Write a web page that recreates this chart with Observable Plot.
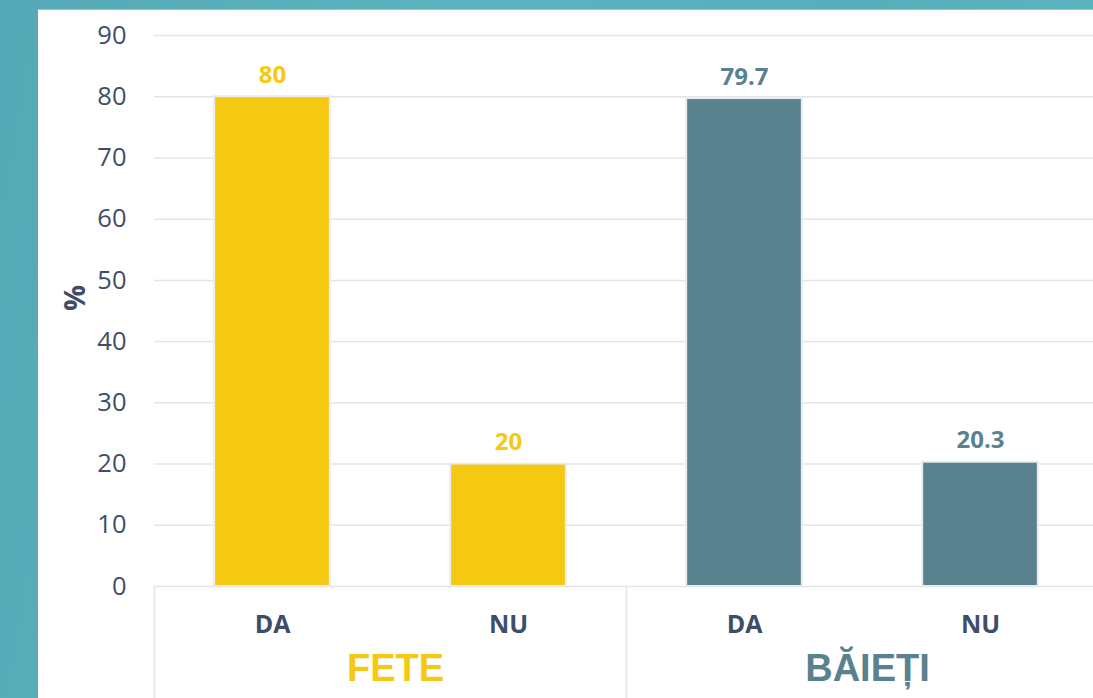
<!DOCTYPE html>
<html>
<head>
<meta charset="utf-8">
<script src="https://cdn.jsdelivr.net/npm/d3@7"></script>
<script src="https://cdn.jsdelivr.net/npm/@observablehq/plot@0.6"></script>
<style>
  html, body { margin: 0; padding: 0; }
  body { width: 1093px; height: 698px; overflow: hidden; position: relative;
         background: linear-gradient(100deg, #55a9b6 0%, #5db3bf 40%, #57adb9 70%, #5cb8c2 100%); }
  #panel { position: absolute; left: 38px; top: 10px; width: 1055px; height: 688px; background: #ffffff;
           box-shadow: 0 -1px 0 #8fcad3; }
  #chart { position: absolute; left: 0; top: 0; }
</style>
</head>
<body>
<div id="panel"></div>
<div id="chart"></div>
<script>
const groups = ["FETE", "FETE", "BĂIEȚI", "BĂIEȚI"];
const answers = ["DA", "NU", "DA", "NU"];
const values = [80, 20, 79.7, 20.3];
const groupNames = ["FETE", "BĂIEȚI"];
const yTicks = [0, 10, 20, 30, 40, 50, 60, 70, 80, 90];
const groupColors = {"FETE": "#f5c812", "BĂIEȚI": "#5a828e"};

const rows = values.map((v, i) => ({i, group: groups[i], answer: answers[i], value: v}));
const groupRows = groupNames.map((g, j) => ({group: g, j}));

const textColor = "#3e4e69";
const gridColor = "#e2e6ec";

const chart = Plot.plot({
  width: 1093,
  height: 698,
  marginLeft: 154,
  marginRight: 0,
  marginTop: 35,
  marginBottom: 112,
  style: {background: "transparent", overflow: "visible", fontFamily: "'Open Sans', sans-serif"},
  x: {domain: [0, 4], range: [154, 1098], axis: null},
  y: {domain: [0, 90], ticks: yTicks, label: null, axis: null},
  marks: [
    Plot.gridY(yTicks.filter(d => d > 0), {stroke: gridColor, strokeOpacity: 1, strokeWidth: 1.5}),
    Plot.axisY(yTicks, {tickSize: 0, tickPadding: 28, fontSize: 25.5, fill: textColor, label: null, tickFormat: d => String(d)}),
    Plot.rectY(rows, {
      x1: d => d.i + 0.255, x2: d => d.i + 0.745, y1: 0, y2: "value",
      fill: d => groupColors[d.group], stroke: "#e9ecef", strokeWidth: 2
    }),
    Plot.ruleY([0], {stroke: gridColor, strokeWidth: 1.5}),
    Plot.ruleX([0, 2], {y1: 0, y2: -19, stroke: gridColor, strokeWidth: 1.5}),
    Plot.text(rows, {
      x: d => d.i + 0.5, y: "value", text: d => String(d.value),
      lineAnchor: "bottom", dy: -14, fontSize: 24, fontWeight: "bold",
      fill: d => groupColors[d.group]
    }),
    Plot.text(rows, {
      x: d => d.i + 0.5, y: 0, text: "answer",
      lineAnchor: "middle", dy: 38, fontSize: 25, fontWeight: "bold", fill: textColor
    }),
    Plot.text(groupRows, {
      x: d => d.j * 2 + 1, y: 0, text: "group", dx: 5,
      lineAnchor: "middle", dy: 82, fontSize: 38, fontWeight: "bold",
      fontFamily: "'Liberation Sans', Arial, sans-serif",
      fill: d => groupColors[d.group]
    }),
    Plot.text(["%"], {
      frameAnchor: "left", dx: -79, rotate: -90, text: d => d,
      fontSize: 29, fontWeight: "bold", fill: textColor
    })
  ]
});
document.getElementById("chart").appendChild(chart);
</script>
</body>
</html>
